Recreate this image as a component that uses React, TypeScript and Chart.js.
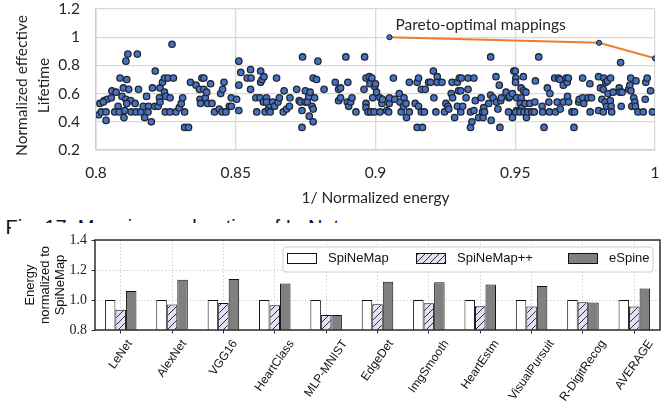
import React, { useEffect, useRef } from "react";
import { Chart, registerables } from "chart.js";

Chart.register(...registerables);

// ---------- Top chart: mapping exploration (1/normalized energy vs normalized lifetime)
const mappings: [number, number][] = [
  [0.801,0.45],[0.8036,0.41],[0.8014,0.53],[0.8019,0.47],[0.8036,0.47],[0.8029,0.55],[0.804,0.56],[0.8026,0.54],
  [0.8055,0.57],[0.8057,0.62],[0.8072,0.61],[0.8086,0.71],[0.8098,0.64],[0.8107,0.83],[0.8114,0.88],[0.811,0.70],
  [0.8117,0.63],[0.8093,0.58],[0.8107,0.56],[0.8124,0.55],[0.8079,0.51],[0.8067,0.47],[0.8083,0.47],[0.81,0.43],
  [0.8103,0.48],[0.811,0.53],[0.8126,0.47],[0.814,0.53],[0.8148,0.88],[0.8152,0.63],[0.8143,0.47],[0.816,0.47],
  [0.8169,0.51],[0.8174,0.43],[0.8181,0.58],[0.8188,0.51],[0.8186,0.47],[0.8198,0.40],[0.8202,0.64],[0.8212,0.76],
  [0.821,0.51],[0.8222,0.51],[0.8227,0.57],[0.8229,0.54],[0.8229,0.64],[0.8238,0.68],[0.8245,0.71],[0.8245,0.61],
  [0.825,0.58],[0.8248,0.47],[0.8265,0.47],[0.8258,0.71],[0.8265,0.57],[0.8272,0.95],[0.8277,0.71],[0.8286,0.47],
  [0.8298,0.50],[0.8305,0.53],[0.831,0.57],[0.8317,0.47],[0.8317,0.36],[0.8331,0.36],[0.8338,0.68],[0.8358,0.66],
  [0.837,0.63],[0.8372,0.56],[0.8374,0.53],[0.8379,0.71],[0.8386,0.71],[0.8386,0.63],[0.8391,0.57],[0.8396,0.61],
  [0.84,0.53],[0.841,0.67],[0.8415,0.53],[0.8424,0.47],[0.8441,0.49],[0.8446,0.60],[0.8453,0.63],[0.8458,0.68],
  [0.8451,0.47],[0.8465,0.47],[0.8477,0.51],[0.8484,0.51],[0.8484,0.57],
  [0.8511,0.83],[0.8518,0.75],[0.8511,0.66],[0.8503,0.56],[0.8511,0.48],[0.8553,0.77],[0.8553,0.63],[0.8541,0.71],
  [0.8555,0.71],[0.8572,0.57],[0.8575,0.47],[0.8589,0.76],[0.8589,0.68],[0.8594,0.70],[0.8601,0.72],[0.8587,0.57],
  [0.8599,0.54],[0.861,0.57],[0.8605,0.47],[0.8617,0.49],[0.862,0.52],[0.8623,0.47],[0.861,0.54],[0.8632,0.54],
  [0.8639,0.51],[0.8646,0.71],[0.8651,0.54],[0.8656,0.57],[0.867,0.47],[0.8673,0.62],[0.8682,0.49],[0.8692,0.51],
  [0.8694,0.57],[0.8718,0.63],[0.8727,0.55],[0.8732,0.54],[0.8737,0.48],[0.8739,0.86],[0.8737,0.36],[0.8749,0.62],
  [0.8749,0.54],[0.8756,0.54],[0.8761,0.58],[0.8766,0.61],[0.8763,0.44],[0.8777,0.40],[0.8773,0.51],[0.8777,0.49],
  [0.8782,0.57],[0.8777,0.71],[0.8789,0.70],[0.8794,0.83],[0.8816,0.63],[0.8856,0.68],[0.8868,0.63],[0.8875,0.64],
  [0.8868,0.55],[0.8875,0.57],[0.8894,0.86],[0.8901,0.68],[0.8899,0.54],[0.8904,0.51],[0.8911,0.54],[0.8916,0.57],
  [0.893,0.47],[0.8961,0.86],[0.8966,0.71],[0.8978,0.72],[0.8987,0.71],[0.898,0.67],[0.8959,0.63],[0.8997,0.65],
  [0.8966,0.53],[0.8966,0.50],[0.8973,0.47],[0.8983,0.47],[0.8995,0.47],[0.899,0.57],[0.9,0.67],
  [0.9004,0.61],[0.9016,0.57],[0.9023,0.53],[0.9025,0.56],[0.9016,0.47],[0.904,0.48],[0.9047,0.47],[0.9049,0.53],
  [0.905,0.57],[0.9064,0.71],[0.9069,0.56],[0.9085,0.60],[0.9088,0.54],[0.9092,0.47],[0.91,0.51],[0.9102,0.57],
  [0.9109,0.53],[0.9111,0.43],[0.9121,0.68],[0.9121,0.47],[0.9142,0.53],[0.9149,0.68],[0.9154,0.71],[0.9154,0.51],
  [0.9149,0.36],[0.9168,0.36],[0.9164,0.63],[0.9178,0.63],[0.9164,0.47],[0.9175,0.47],[0.919,0.68],[0.9197,0.68],
  [0.9207,0.76],[0.9221,0.72],[0.922,0.68],[0.9238,0.68],[0.9209,0.57],[0.9216,0.47],[0.9247,0.47],[0.9252,0.53],
  [0.9259,0.51],[0.9262,0.49],[0.9271,0.60],[0.9274,0.68],[0.9276,0.57],[0.9283,0.43],[0.9293,0.68],[0.93,0.71],
  [0.9297,0.62],[0.9305,0.62],[0.9307,0.71],[0.9293,0.51],[0.9305,0.47],[0.9312,0.51],[0.9324,0.57],[0.9331,0.63],
  [0.9331,0.71],[0.9352,0.71],[0.934,0.47],[0.934,0.36],[0.9345,0.40],[0.9352,0.48],[0.9357,0.55],[0.9369,0.43],
  [0.9378,0.57],[0.9385,0.43],[0.9383,0.47],[0.9387,0.50],[0.939,0.47],[0.9405,0.53],[0.9412,0.59],[0.9414,0.41],
  [0.9421,0.57],[0.9431,0.72],[0.9433,0.54],[0.9438,0.49],[0.9443,0.66],[0.9448,0.55],[0.9445,0.36],[0.945,0.57],
  [0.9467,0.61],[0.9476,0.47],[0.9477,0.57],[0.948,0.58],[0.949,0.43],[0.949,0.60],[0.9495,0.76],[0.9505,0.57],
  [0.9505,0.48],[0.9412,0.86],
  [0.9584,0.86],[0.9877,0.82],[0.95,0.76],[0.9502,0.71],[0.9501,0.68],[0.9521,0.64],[0.9529,0.72],[0.953,0.62],
  [0.9538,0.61],[0.9521,0.57],[0.9518,0.53],[0.9524,0.50],[0.9535,0.53],[0.9502,0.47],[0.9517,0.47],[0.9531,0.47],
  [0.954,0.43],[0.9545,0.47],[0.9552,0.53],[0.9559,0.47],[0.957,0.54],[0.9572,0.69],[0.9568,0.47],[0.9596,0.51],
  [0.9598,0.47],[0.9603,0.36],[0.9615,0.64],[0.962,0.54],[0.9622,0.47],[0.9624,0.60],[0.9641,0.71],[0.9644,0.47],
  [0.965,0.54],[0.9655,0.71],[0.966,0.70],[0.9672,0.66],[0.9661,0.49],[0.9672,0.54],[0.9682,0.71],[0.9686,0.68],
  [0.969,0.71],[0.9687,0.58],[0.9691,0.54],[0.9703,0.47],[0.971,0.36],[0.9712,0.47],[0.9727,0.54],[0.9729,0.56],
  [0.9741,0.71],[0.9741,0.57],[0.9745,0.53],[0.976,0.57],[0.9767,0.67],[0.9768,0.47],[0.9773,0.57],[0.9798,0.72],
  [0.9798,0.48],[0.9805,0.64],[0.981,0.56],[0.9815,0.63],[0.9815,0.47],[0.9817,0.71],[0.9822,0.54],[0.9824,0.68],
  [0.983,0.69],[0.9827,0.51],[0.9832,0.60],[0.984,0.55],[0.9841,0.71],[0.9843,0.51],[0.9845,0.47],[0.985,0.61],
  [0.9872,0.64],[0.9874,0.61],[0.9879,0.51],[0.9882,0.61],[0.9906,0.63],[0.9913,0.71],[0.991,0.66],[0.9914,0.62],
  [0.9917,0.51],[0.9924,0.57],[0.9928,0.54],[0.993,0.51],[0.9932,0.69],[0.9939,0.47],[0.9965,0.56],[0.9967,0.68],
  [0.9972,0.71],[0.9984,0.62],[0.9958,0.47],[0.9991,0.47],
];
const paretoEnergy = [0.905, 0.98, 1.0];
const paretoLifetime = [1.0, 0.96, 0.85];
const paretoLabel = "Pareto-optimal mappings";
const topYTitle = ["Normalized effective", "Lifetime"];
const topXTitle = "1/ Normalized energy";

// ---------- Bottom chart: energy normalized to SpiNeMap
const benchmarks = [
  "LeNet", "AlexNet", "VGG16", "HeartClass", "MLP-MNIST", "EdgeDet",
  "ImgSmooth", "HeartEstm", "VisualPursuit", "R-DigitRecog", "AVERAGE",
];
const spineMap = [1.0, 1.0, 1.0, 1.0, 1.0, 1.0, 1.0, 1.0, 1.0, 1.0, 1.0];
const spineMapPP = [0.935, 0.97, 0.98, 0.965, 0.9, 0.972, 0.978, 0.958, 0.956, 0.985, 0.957];
const eSpine = [1.06, 1.135, 1.14, 1.11, 0.9, 1.122, 1.118, 1.103, 1.094, 0.984, 1.077];
const seriesNames = ["SpiNeMap", "SpiNeMap++", "eSpine"];
const energyTicks = [0.8, 1.0, 1.2, 1.4];
const botYTitle = ["Energy", "normalized to", "SpiNeMap"];
const caption = "Fig. 17: Mapping exploration of LeNet.";

function makeHatch(): CanvasPattern | string {
  const c = document.createElement("canvas");
  const s = 7;
  c.width = s;
  c.height = s;
  const g = c.getContext("2d");
  if (!g) return "#e4e4f7";
  g.fillStyle = "#e2e2f6";
  g.fillRect(0, 0, s, s);
  g.strokeStyle = "#1a1a1a";
  g.lineWidth = 0.9;
  g.beginPath();
  g.moveTo(0, s); g.lineTo(s, 0);
  g.moveTo(-1, 1); g.lineTo(1, -1);
  g.moveTo(s - 1, s + 1); g.lineTo(s + 1, s - 1);
  g.stroke();
  const p = g.createPattern(c, "repeat");
  return p || "#e4e4f7";
}

const fmtTick = (v: any) => String(parseFloat(Number(v).toFixed(2)));

export default function App() {
  const topRef = useRef<HTMLCanvasElement | null>(null);
  const botRef = useRef<HTMLCanvasElement | null>(null);

  useEffect(() => {
    if (!topRef.current || !botRef.current) return;
    const latoFont = "Lato";

    const topDecor = {
      id: "topDecor",
      afterDraw(chart: any) {
        const { ctx, chartArea, scales } = chart;
        ctx.save();
        ctx.fillStyle = "#262626";
        ctx.font = `15.5px ${latoFont}`;
        const px = scales.x.getPixelForValue(paretoEnergy[0]) + 6;
        const py = scales.y.getPixelForValue(paretoLifetime[0]) - 12;
        ctx.textAlign = "left";
        ctx.textBaseline = "middle";
        ctx.fillText(paretoLabel, px, py);
        ctx.textAlign = "center";
        ctx.fillText(topXTitle, (chartArea.left + chartArea.right) / 2, 198);
        const cy = (chartArea.top + chartArea.bottom) / 2 + 6;
        topYTitle.forEach((t, i) => {
          ctx.save();
          ctx.translate(22 + i * 22, cy);
          ctx.rotate(-Math.PI / 2);
          ctx.fillText(t, 0, 0);
          ctx.restore();
        });
        ctx.restore();
      },
    };

    const top = new Chart(topRef.current, {
      type: "scatter",
      data: {
        datasets: [
          {
            type: "line",
            data: paretoEnergy.map((x, i) => ({ x, y: paretoLifetime[i] })),
            borderColor: "#ED7D31",
            borderWidth: 2,
            pointRadius: 2.6,
            pointBackgroundColor: "#4472C4",
            pointBorderColor: "#1f232b",
            pointBorderWidth: 1,
            order: 0,
          } as any,
          {
            data: mappings.map(([x, y]) => ({ x, y })),
            pointRadius: 3.2,
            pointBackgroundColor: "#4472C4",
            pointBorderColor: "#23262e",
            pointBorderWidth: 1.3,
            order: 1,
          },
        ],
      },
      options: {
        animation: false,
        responsive: false,
        layout: { padding: { left: 0, right: 8, top: 9, bottom: 0 } },
        plugins: { legend: { display: false }, tooltip: { enabled: false } },
        scales: {
          x: {
            type: "linear",
            min: 0.8,
            max: 1,
            ticks: { stepSize: 0.05, padding: 0, color: "#262626", callback: fmtTick, font: { family: latoFont, size: 15.5, lineHeight: 1.1 } },
            grid: { color: "#d9d9d9", lineWidth: 1.3, drawTicks: true, tickLength: 14, tickColor: "rgba(0,0,0,0)" },
            border: { color: "#d0d0d0", width: 1.5 },
            afterFit(s: any) { s.height = 62; },
          },
          y: {
            min: 0.2,
            max: 1.2,
            ticks: { stepSize: 0.2, padding: 0, color: "#262626", callback: fmtTick, font: { family: latoFont, size: 15.5, lineHeight: 1.1 } },
            grid: { color: "#d9d9d9", lineWidth: 1.3, drawTicks: true, tickLength: 16, tickColor: "rgba(0,0,0,0)" },
            border: { color: "#d0d0d0", width: 1.5 },
            afterFit(s: any) { s.width = 96; },
          },
        },
      },
      plugins: [topDecor],
    });

    const hatch = makeHatch();
    const sans = "Liberation Sans";

    const botDecor = {
      id: "botDecor",
      afterDatasetsDraw(chart: any) {
        const { ctx, chartArea } = chart;
        ctx.save();
        ctx.strokeStyle = "#2e2e2e";
        ctx.lineWidth = 1.5;
        ctx.strokeRect(chartArea.left, chartArea.top, chartArea.right - chartArea.left, chartArea.bottom - chartArea.top);
        ctx.restore();
      },
      afterDraw(chart: any) {
        const { ctx, chartArea, scales } = chart;
        ctx.save();
        const ang = (55 * Math.PI) / 180;
        const fs = 12;
        ctx.font = `${fs}px ${sans}`;
        ctx.fillStyle = "#111";
        benchmarks.forEach((lab, i) => {
          const x = scales.x.getPixelForValue(i);
          const w = ctx.measureText(lab).width;
          const bh = w * Math.sin(ang) + fs * Math.cos(ang);
          const cy = chartArea.bottom + 8 + bh / 2;
          ctx.save();
          ctx.translate(x, cy);
          ctx.rotate(-ang);
          ctx.textAlign = "center";
          ctx.textBaseline = "middle";
          ctx.fillText(lab, 0, 0);
          ctx.restore();
        });
        ctx.font = `13px ${sans}`;
        ctx.fillStyle = "#111";
        const cy = (chartArea.top + chartArea.bottom) / 2;
        botYTitle.forEach((t, i) => {
          ctx.save();
          ctx.translate(30 + i * 15, cy);
          ctx.rotate(-Math.PI / 2);
          ctx.textAlign = "center";
          ctx.textBaseline = "middle";
          ctx.fillText(t, 0, 0);
          ctx.restore();
        });
        // legend
        const lx = 283, ly = 23, lw = 370, lh = 25;
        const r = 3;
        ctx.beginPath();
        ctx.moveTo(lx + r, ly);
        ctx.arcTo(lx + lw, ly, lx + lw, ly + lh, r);
        ctx.arcTo(lx + lw, ly + lh, lx, ly + lh, r);
        ctx.arcTo(lx, ly + lh, lx, ly, r);
        ctx.arcTo(lx, ly, lx + lw, ly, r);
        ctx.closePath();
        ctx.fillStyle = "rgba(255,255,255,0.85)";
        ctx.fill();
        ctx.strokeStyle = "#d0d0d0";
        ctx.lineWidth = 1;
        ctx.stroke();
        const fills: any[] = ["#ffffff", hatch, "#808080"];
        const swX = [287, 416, 568];
        ctx.font = `13px ${sans}`;
        seriesNames.forEach((name, i) => {
          ctx.fillStyle = fills[i];
          ctx.fillRect(swX[i], 29, 29, 10);
          ctx.strokeStyle = "#111";
          ctx.lineWidth = 1;
          ctx.strokeRect(swX[i] + 0.5, 29.5, 29, 10);
          ctx.fillStyle = "#111";
          ctx.textAlign = "left";
          ctx.textBaseline = "middle";
          ctx.fillText(name, swX[i] + 41, 34.5);
        });
        ctx.restore();
      },
    };

    const bot = new Chart(botRef.current, {
      type: "bar",
      data: {
        labels: benchmarks,
        datasets: [
          { label: seriesNames[0], data: spineMap, backgroundColor: "#ffffff", borderColor: "#111", borderWidth: 1, borderSkipped: false },
          { label: seriesNames[1], data: spineMapPP, backgroundColor: hatch as any, borderColor: "#111", borderWidth: 1, borderSkipped: false },
          { label: seriesNames[2], data: eSpine, backgroundColor: "#808080", borderColor: "#111", borderWidth: 1, borderSkipped: false },
        ],
      },
      options: {
        animation: false,
        responsive: false,
        layout: { padding: { left: 0, right: 3, top: 16, bottom: 0 } },
        datasets: { bar: { categoryPercentage: 0.614, barPercentage: 1 } },
        plugins: { legend: { display: false }, tooltip: { enabled: false } },
        scales: {
          x: {
            ticks: { display: false },
            grid: { offset: false, color: "#c4c4c4", lineWidth: 0.8, tickColor: "#2e2e2e", tickLength: 3.5, tickWidth: 1 },
            border: { display: false, dash: [1.5, 2] },
            afterFit(s: any) { s.height = 78; },
          },
          y: {
            min: 0.8,
            max: 1.4,
            afterBuildTicks(s: any) { s.ticks = energyTicks.map((v) => ({ value: v })); },
            ticks: {
              padding: 4.5,
              color: "#222",
              font: { family: "Liberation Serif", size: 14 },
              callback: (v: any) => Number(v).toFixed(1),
            },
            grid: { color: "#c4c4c4", lineWidth: 0.8, tickColor: "#2e2e2e", tickLength: 3.5, tickWidth: 1 },
            border: { display: false, dash: [1.5, 2] },
            afterFit(s: any) { s.width = 95; },
          },
        },
      },
      plugins: [botDecor],
    });

    return () => {
      top.destroy();
      bot.destroy();
    };
  }, []);

  return (
    <div style={{ position: "absolute", left: 0, top: 0, width: 663, height: 408, background: "#fff", overflow: "hidden" }}>
      <canvas ref={topRef} width={663} height={212} style={{ position: "absolute", left: 0, top: 0, width: 663, height: 212 }} />
      <div
        style={{
          position: "absolute",
          left: 5.5,
          top: 216.3,
          fontFamily: "Liberation Sans",
          fontSize: 20,
          lineHeight: "23px",
          whiteSpace: "nowrap",
          color: "#111",
        }}
      >
        {caption}
      </div>
      <div style={{ position: "absolute", left: 11, top: 222.5, width: 652, height: 186, background: "#fff" }} />
      <canvas ref={botRef} width={663} height={184} style={{ position: "absolute", left: 0, top: 224, width: 663, height: 184 }} />
    </div>
  );
}
